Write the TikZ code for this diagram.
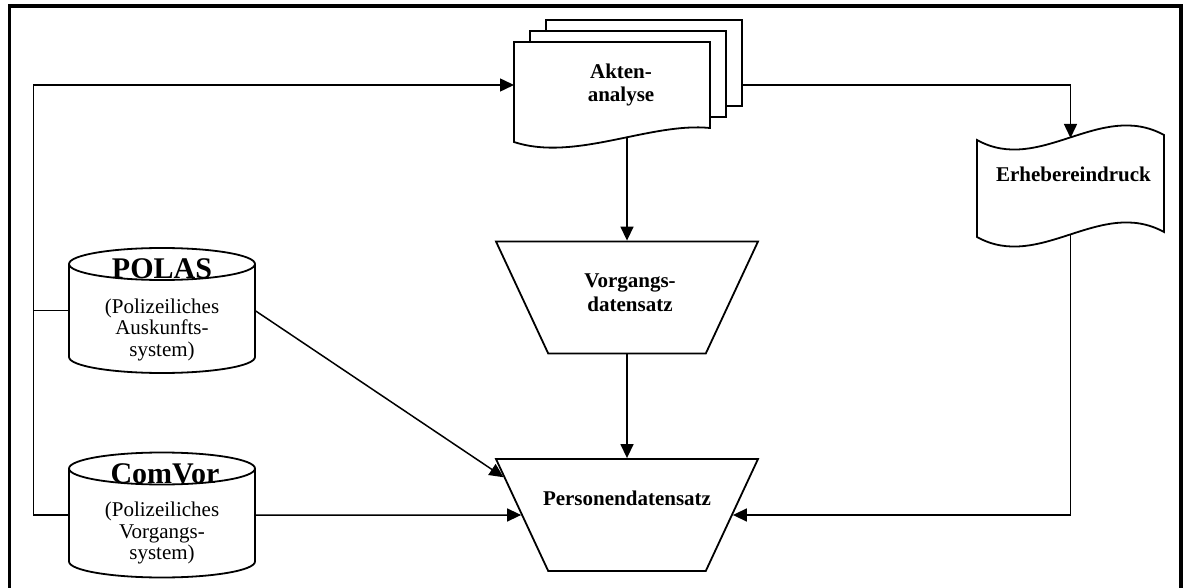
\documentclass[tikz,border=0pt]{standalone}
\usepackage{fontspec}
\setmainfont{Liberation Serif}
\usetikzlibrary{arrows.meta,positioning,calc,shapes.geometric}

\begin{document}
\begin{tikzpicture}[
  x=1pt, y=-1pt,
  frame/.style={line width=3.5pt, line join=miter},
  shp/.style={draw, line width=1.8pt, fill=white},
  area/.style={rectangle, inner sep=0pt, outer sep=0pt},
  trap/.style={trapezium, trapezium left angle=115, trapezium right angle=115,
               trapezium stretches body=true, minimum width=262pt,
               text height=110pt, text depth=0pt, inner sep=1pt,
               draw, line width=1.8pt, fill=white},
  con/.style={line width=1.5pt},
  arr/.style={con, -{Triangle[length=14pt, width=13pt]}},
  lbl/.style={font=\bfseries\fontsize{21}{23.5}\selectfont, align=center, inner sep=0pt},
  dbtitle/.style={font=\bfseries\fontsize{30}{32}\selectfont, inner sep=0pt},
  dbtext/.style={font=\fontsize{21}{21.5}\selectfont, align=center, inner sep=0pt}
]
\useasboundingbox (0,0) rectangle (1186,588);
\draw[frame] (9.5,600) -- (9.5,6) -- (1181,6) -- (1181,600);

% boxes the outlines are drawn around
\node[area, minimum width=196pt, minimum height=86pt] (akten) at (612,85) {};
\node[area, minimum width=186pt, minimum height=125pt] (polas) at (162,310.5) {};
\node[area, minimum width=186pt, minimum height=125pt, below=79.5pt of polas] (comvor) {};
\node[area, minimum width=187pt, minimum height=97pt] (erh) at (1070.5,186.5) {};
\node[trap] (vorg) at (627,297.5) {\strut};
\node[trap] (pers) at (627,515) {\strut};

% stacked documents
\draw[shp] ([shift={(32pt,22pt)}]akten.north west) rectangle ([shift={(32pt,22pt)}]akten.south east);
\draw[shp] ([shift={(16pt,11pt)}]akten.north west) rectangle ([shift={(16pt,11pt)}]akten.south east);
\draw[shp] (akten.south east) -- (akten.north east) -- (akten.north west) -- ([yshift=-14pt]akten.south west)
  .. controls ([shift={(61pt,-34pt)}]akten.south west) and ([shift={(-60pt,6pt)}]akten.south east) .. (akten.south east) -- cycle;

% punched tape
\draw[shp] ([yshift=-2pt]erh.north west)
  .. controls ([shift={(63pt,-37pt)}]erh.north west) and ([shift={(-64pt,38pt)}]erh.north east) .. ([yshift=3pt]erh.north east)
  -- ([yshift=3pt]erh.south east)
  .. controls ([shift={(-64pt,38pt)}]erh.south east) and ([shift={(63pt,-37pt)}]erh.south west) .. ([yshift=-2pt]erh.south west)
  -- cycle;

% databases
\draw[shp] ([yshift=-16pt]polas.north west) -- ([yshift=16pt]polas.south west)
  arc[start angle=180, end angle=360, x radius=93pt, y radius=16pt] -- ([yshift=-16pt]polas.north east);
\draw[shp] ([yshift=-16pt]polas.north) ellipse [x radius=93pt, y radius=16pt];
\draw[shp] ([yshift=-16pt]comvor.north west) -- ([yshift=16pt]comvor.south west)
  arc[start angle=180, end angle=360, x radius=93pt, y radius=16pt] -- ([yshift=-16pt]comvor.north east);
\draw[shp] ([yshift=-16pt]comvor.north) ellipse [x radius=93pt, y radius=16pt];

\node[lbl, xshift=9pt] (aktenlbl) at (akten) {Akten-\\analyse};
\node[lbl, xshift=3pt, yshift=5pt] (vorglbl) at (vorg) {Vorgangs-\\datensatz};
\node[lbl, yshift=16.5pt] (perslbl) at (pers) {Personendatensatz};
\node[lbl, xshift=3pt, yshift=12.5pt] (erhlbl) at (erh) {Erhebereindruck};
\node[dbtitle, yshift=41.5pt] (polastitle) at (polas) {POLAS};
\node[dbtext, yshift=-19pt] (polastext) at (polas) {(Polizeiliches\\Auskunfts-\\system)};
\node[dbtitle, xshift=3pt, yshift=41.5pt] (comvortitle) at (comvor) {ComVor};
\node[dbtext, yshift=-18pt] (comvortext) at (comvor) {(Polizeiliches\\Vorgangs-\\system)};

\coordinate (bus) at (33.5,0);
\coordinate[xshift=32pt] (aktenback) at (akten.east);
\coordinate[yshift=-9pt] (aktenfoot) at (akten.south -| vorg.north);

\draw[arr] (comvor.west) -| (bus |- akten.west) -- (akten.west);
\draw[con] (polas.west) -- (polas.west -| bus);
\draw[arr] (aktenback) -| (erh.north);
\draw[arr] (aktenfoot) -- (vorg.north);
\draw[arr] (vorg.south) -- (pers.north);
\draw[arr] (polas.east) -- (pers.163);
\draw[arr] (comvor.east) -- (pers.west);
\draw[arr] (erh.south) |- (pers.east);
\end{tikzpicture}
\end{document}
